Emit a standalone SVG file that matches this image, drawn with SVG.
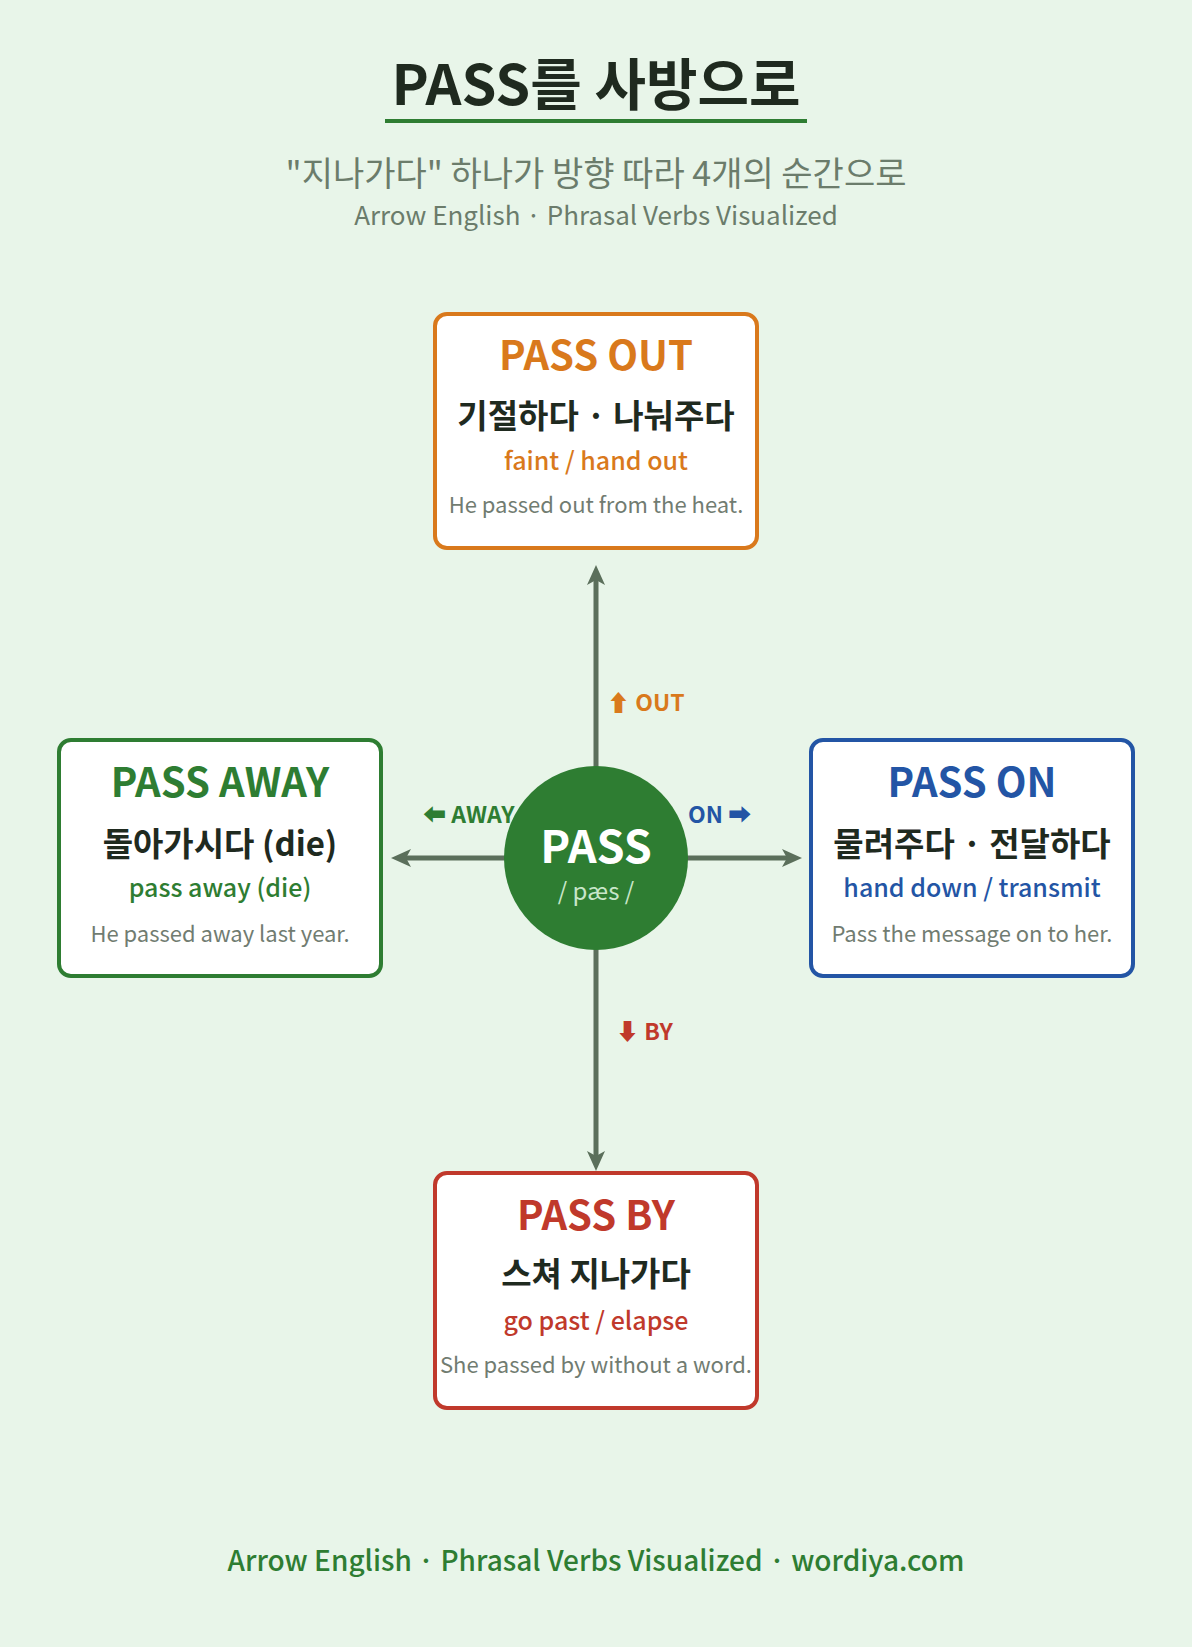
<svg xmlns="http://www.w3.org/2000/svg" width="1192" height="1647" viewBox="0 0 1192 1647">
  <defs>
    <style>
      text { font-family: "Noto Sans CJK KR", "Noto Sans", sans-serif; }
      .title { font-size: 56px; font-weight: 700; fill: #1f2a1f; text-anchor: middle; }
      .sub { font-size: 34px; font-weight: 400; fill: #6b7c6b; text-anchor: middle; }
      .sub2 { font-size: 26px; font-weight: 400; fill: #6b7c6b; text-anchor: middle; }
      .card { fill: #ffffff; stroke-width: 4; }
      .verb { font-size: 40px; font-weight: 700; text-anchor: middle; }
      .ko { font-size: 33px; font-weight: 700; fill: #1f2a1f; text-anchor: middle; }
      .en { font-size: 25px; font-weight: 500; text-anchor: middle; }
      .ex { font-size: 22px; font-weight: 400; fill: #717c71; text-anchor: middle; }
      .lbl { font-size: 23px; font-weight: 700; }
      .conn { stroke: #5b6f5b; stroke-width: 5; fill: none; marker-end: url(#head); }
      .footer { font-size: 28px; font-weight: 500; fill: #2e7d32; text-anchor: middle; }
    </style>
    <marker id="head" viewBox="0 0 20 20" refX="5" refY="10" markerWidth="20" markerHeight="20" markerUnits="userSpaceOnUse" orient="auto">
      <path d="M0,1 L20,10 L0,19 L5,10 Z" fill="#5b6f5b"/>
    </marker>
  </defs>

  <rect x="0" y="0" width="1192" height="1647" fill="#e8f5e9"/>

  <g id="header">
    <text class="title" x="596" y="105">PASS를 사방으로</text>
    <rect x="385" y="119" width="422" height="4" fill="#2e7d32"/>
    <text class="sub" x="596" y="186">"지나가다" 하나가 방향 따라 4개의 순간으로</text>
    <text class="sub2" x="596" y="225">Arrow English · Phrasal Verbs Visualized</text>
  </g>

  <g id="connectors">
    <line class="conn" x1="596" y1="858" x2="596" y2="580"/>
    <line class="conn" x1="596" y1="858" x2="596" y2="1156"/>
    <line class="conn" x1="596" y1="858" x2="406" y2="858"/>
    <line class="conn" x1="596" y1="858" x2="787" y2="858"/>
    <text class="lbl" x="607" y="711" fill="#d9791c">⬆ OUT</text>
    <text class="lbl" x="688" y="823" fill="#2355a5">ON ➡</text>
    <text class="lbl" x="423" y="823" fill="#2e7d32">⬅ AWAY</text>
    <text class="lbl" x="616" y="1040" fill="#c0392b">⬇ BY</text>
  </g>

  <g id="node-pass">
    <circle cx="596" cy="858" r="92" fill="#2e7d32"/>
    <text x="596" y="863" font-size="45" font-weight="700" fill="#ffffff" text-anchor="middle">PASS</text>
    <text x="596" y="900" font-size="24" font-weight="400" fill="#c8e6c9" text-anchor="middle">/ pæs /</text>
  </g>

  <g id="node-out">
    <rect class="card" x="435" y="314" width="322" height="234" rx="12" stroke="#d9791c"/>
    <text class="verb" x="596" y="370" fill="#d9791c">PASS OUT</text>
    <text class="ko" x="596" y="428">기절하다 · 나눠주다</text>
    <text class="en" x="596" y="470" fill="#d9791c">faint / hand out</text>
    <text class="ex" x="596" y="513">He passed out from the heat.</text>
  </g>

  <g id="node-away">
    <rect class="card" x="59" y="740" width="322" height="236" rx="12" stroke="#2e7d32"/>
    <text class="verb" x="220" y="797" fill="#2e7d32">PASS AWAY</text>
    <text class="ko" x="220" y="856">돌아가시다 (die)</text>
    <text class="en" x="220" y="897" fill="#2e7d32">pass away (die)</text>
    <text class="ex" x="220" y="942">He passed away last year.</text>
  </g>

  <g id="node-on">
    <rect class="card" x="811" y="740" width="322" height="236" rx="12" stroke="#2355a5"/>
    <text class="verb" x="972" y="797" fill="#2355a5">PASS ON</text>
    <text class="ko" x="972" y="856">물려주다 · 전달하다</text>
    <text class="en" x="972" y="897" fill="#2355a5">hand down / transmit</text>
    <text class="ex" x="972" y="942">Pass the message on to her.</text>
  </g>

  <g id="node-by">
    <rect class="card" x="435" y="1173" width="322" height="235" rx="12" stroke="#c0392b"/>
    <text class="verb" x="596" y="1230" fill="#c0392b">PASS BY</text>
    <text class="ko" x="596" y="1286">스쳐 지나가다</text>
    <text class="en" x="596" y="1330" fill="#c0392b">go past / elapse</text>
    <text class="ex" x="596" y="1373">She passed by without a word.</text>
  </g>

  <g id="footer">
    <text class="footer" x="596" y="1571">Arrow English · Phrasal Verbs Visualized · wordiya.com</text>
  </g>
</svg>
